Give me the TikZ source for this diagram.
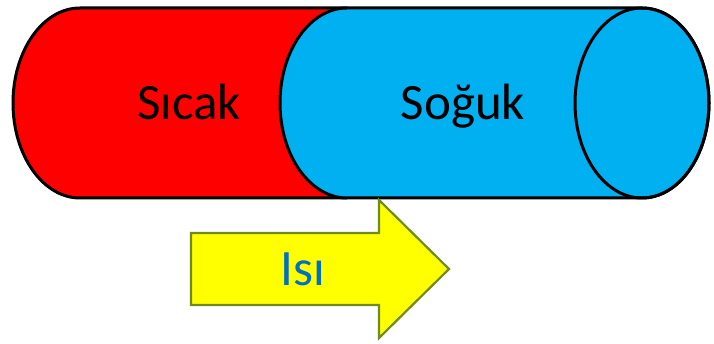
\documentclass[tikz,border=0pt]{standalone}
\usepackage{fontspec}
\setmainfont{Carlito}
\definecolor{hotred}{RGB}{255,0,0}
\definecolor{coldblue}{RGB}{0,176,240}
\definecolor{arrowyellow}{RGB}{255,255,0}
\definecolor{arrowedge}{RGB}{110,140,30}
\definecolor{labelblue}{RGB}{0,112,192}
\tikzset{
  body/.style={draw=black, line width=3pt, line join=round},
  heatarrow/.style={draw=arrowedge, fill=arrowyellow, line width=2.2pt, line join=miter},
  biglabel/.style={font=\fontsize{51}{60}\selectfont, anchor=base, inner sep=0pt}
}
\begin{document}
\begin{tikzpicture}[x=1pt,y=1pt]
\useasboundingbox (0,0) rectangle (714,344);
% red (hot) part
\path[body, fill=hotred] (80,336) -- (347,336) -- (347,146) -- (80,146)
  arc[start angle=270, end angle=90, x radius=67, y radius=95] -- cycle;
% blue (cold) cylinder
\path[body, fill=coldblue] (347,336)
  arc[start angle=90, end angle=270, x radius=67, y radius=95]
  -- (642,146)
  arc[start angle=-90, end angle=90, x radius=67, y radius=95] -- cycle;
\draw[body] (642,241) ellipse[x radius=67, y radius=95];
% heat arrow
\path[heatarrow] (191,111) -- (379,111) -- (379,144) -- (449,75)
  -- (379,6) -- (379,39) -- (191,39) -- cycle;
% labels
\node[biglabel] (hot) at (189,224) {Sıcak};
\node[biglabel] (cold) at (463,224) {Soğuk};
\node[biglabel, text=labelblue] (heat) at (303,58) {Isı};
\end{tikzpicture}
\end{document}
